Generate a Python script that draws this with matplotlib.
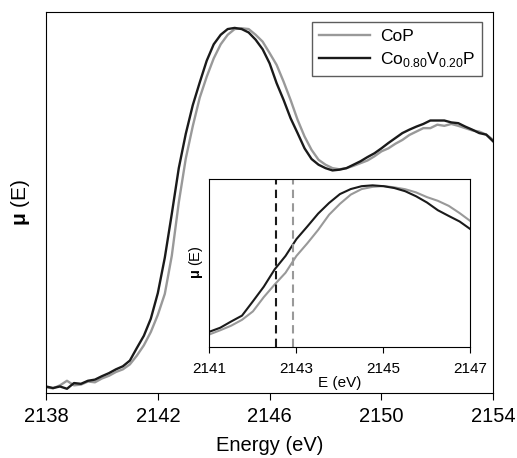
import numpy as np
import matplotlib
matplotlib.use("Agg")
import matplotlib.pyplot as plt

plt.rcParams['font.family'] = ['Liberation Sans', 'DejaVu Sans']
plt.rcParams['mathtext.fontset'] = 'custom'
plt.rcParams['mathtext.rm'] = 'Liberation Sans'
plt.rcParams['mathtext.bf'] = 'Liberation Sans:bold'

# main spectra, 0.25 eV step (normalised intensity)
energy = np.arange(2138.0, 2154.01, 0.25)
mu_cop = [0.015, 0.012, 0.020, 0.032, 0.020, 0.022, 0.030, 0.028, 0.038, 0.045, 0.055, 0.062,
          0.075, 0.098, 0.125, 0.160, 0.205, 0.260, 0.360, 0.500, 0.615, 0.700, 0.775, 0.830,
          0.878, 0.915, 0.940, 0.955, 0.957, 0.955, 0.940, 0.922, 0.892, 0.861, 0.817, 0.769,
          0.717, 0.673, 0.638, 0.612, 0.599, 0.590, 0.587, 0.590, 0.596, 0.603, 0.610, 0.621,
          0.634, 0.642, 0.654, 0.664, 0.677, 0.686, 0.695, 0.695, 0.704, 0.701, 0.706, 0.701,
          0.695, 0.689, 0.686, 0.678, 0.664]
mu_cov = [0.017, 0.013, 0.017, 0.011, 0.026, 0.024, 0.032, 0.035, 0.044, 0.052, 0.062, 0.070,
          0.085, 0.118, 0.150, 0.195, 0.262, 0.355, 0.470, 0.590, 0.680, 0.755, 0.815, 0.872,
          0.915, 0.940, 0.955, 0.958, 0.955, 0.946, 0.927, 0.902, 0.865, 0.813, 0.769, 0.721,
          0.682, 0.642, 0.614, 0.599, 0.590, 0.584, 0.586, 0.590, 0.599, 0.608, 0.619, 0.629,
          0.642, 0.656, 0.669, 0.682, 0.691, 0.699, 0.706, 0.715, 0.715, 0.715, 0.710, 0.708,
          0.699, 0.691, 0.682, 0.678, 0.660]

# inset (edge region)
energy_in = np.arange(2141.0, 2147.01, 0.25)
mu_cop_in = [0.073, 0.098, 0.125, 0.160, 0.210, 0.295, 0.370, 0.440, 0.540, 0.615, 0.695, 0.785,
             0.850, 0.905, 0.938, 0.951, 0.956, 0.948, 0.937, 0.918, 0.890, 0.868, 0.838, 0.795,
             0.747]
mu_cov_in = [0.089, 0.113, 0.150, 0.185, 0.270, 0.357, 0.460, 0.540, 0.640, 0.715, 0.792, 0.855,
             0.908, 0.938, 0.955, 0.960, 0.955, 0.944, 0.925, 0.895, 0.858, 0.812, 0.778, 0.745,
             0.699]
edge_cov = 2142.52
edge_cop = 2142.92

gray = '#999999'
black = '#1a1a1a'

fig = plt.figure(figsize=(5.17, 4.58), dpi=100)
ax = fig.add_axes([0.089, 0.142, 0.865, 0.832])
ax.plot(energy, mu_cop, color=gray, lw=1.7, label='CoP')
ax.plot(energy, mu_cov, color=black, lw=1.7,
        label=r'Co$_{\mathregular{0.80}}$V$_{\mathregular{0.20}}$P')
ax.set_xlim(2138, 2154)
ax.set_ylim(0, 1)
ax.set_xticks([2138, 2142, 2146, 2150, 2154])
ax.set_yticks([])
ax.tick_params(axis='x', direction='out', length=5, labelsize=14.5, pad=5)
ax.set_xlabel('Energy (eV)', fontsize=14.5, labelpad=7)
ax.set_ylabel(r'$\mathbf{μ}$ (E)', fontsize=15)
ax.yaxis.set_label_coords(-0.032, 0.5)
leg = ax.legend(loc='upper right', fontsize=12.5, frameon=True, fancybox=False,
                edgecolor='#333333', borderpad=0.4, handlelength=2.9, handletextpad=0.6,
                labelspacing=0.35, borderaxespad=0, bbox_to_anchor=(0.975, 0.974))
leg.get_frame().set_linewidth(1.0)

ins = fig.add_axes([0.405, 0.243, 0.505, 0.367])
ins.plot(energy_in, mu_cop_in, color=gray, lw=1.5)
ins.plot(energy_in, mu_cov_in, color=black, lw=1.5)
ins.axvline(edge_cov, color=black, ls=(0, (4, 2.5)), lw=1.5)
ins.axvline(edge_cop, color=gray, ls=(0, (4, 2.5)), lw=1.5)
ins.set_xlim(2141, 2147)
ins.set_ylim(0, 1)
ins.set_xticks([2141, 2143, 2145, 2147])
ins.set_yticks([])
ins.tick_params(axis='x', direction='out', length=4.3, labelsize=11, pad=7)
ins.set_xlabel('E (eV)', fontsize=11, labelpad=0)
ins.set_ylabel(r'$\mathbf{μ}$ (E)', fontsize=10.5)
ins.yaxis.set_label_coords(-0.015, 0.5)

fig.savefig('out.png', dpi=100)
